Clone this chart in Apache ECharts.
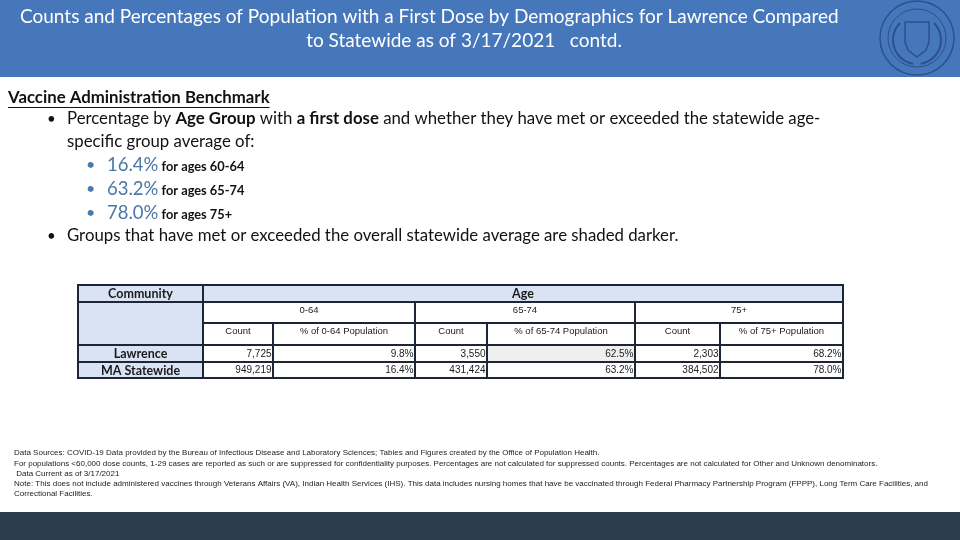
<!DOCTYPE html>
<html><head><meta charset="utf-8">
<script src="https://cdn.jsdelivr.net/npm/echarts@6/dist/echarts.min.js"></script>
<style>html,body{margin:0;padding:0;background:#fff}#c{width:960px;height:540px}</style>
</head><body><div id="c"></div>
<script>
// ---------- data ----------
const communities = ['Lawrence', 'MA Statewide'];
const ageGroups = ['0-64', '65-74', '75+'];
const lawrenceCounts = [7725, 3550, 2303];
const lawrencePcts = [9.8, 62.5, 68.2];
const statewideCounts = [949219, 431424, 384502];
const statewidePcts = [16.4, 63.2, 78.0];
const lawrenceShaded = [false, true, false];
const benchmarkPcts = [16.4, 63.2, 78.0];
const benchmarkLabels = ['for ages 60-64', 'for ages 65-74', 'for ages 75+'];

const titleLines = ['Counts and Percentages of Population with a First Dose by Demographics for Lawrence Compared', 'to Statewide as of 3/17/2021   contd.'];
const footnotes = [
  'Data Sources: COVID-19 Data provided by the Bureau of Infectious Disease and Laboratory Sciences; Tables and Figures created by the Office of Population Health.',
  'For populations <60,000 dose counts, 1-29 cases are reported as such or are suppressed for confidentiality purposes. Percentages are not calculated for suppressed counts. Percentages are not calculated for Other and Unknown denominators.',
  ' Data Current as of 3/17/2021',
  'Note: This does not include administered vaccines through Veterans Affairs (VA), Indian Health Services (IHS). This data includes nursing homes that have be vaccinated through Federal Pharmacy Partnership Program (FPPP), Long Term Care Facilities, and',
  'Correctional Facilities.'
];

// ---------- layout (table grid in px units) ----------
const colEdges = [0, 125, 195, 337, 409, 557, 642, 765];
const rowEdges = [0, 17, 38, 60, 77, 93];
const BLUE = '#dae3f3', WHITE = '#ffffff', GREY = '#efefef';
const fmt = n => n.toLocaleString('en-US');

const cells = [];
function cell(c0, c1, r0, r1, text, fill, kind, align) {
  cells.push({c0, c1, r0, r1, text, fill, kind, align});
}
cell(0, 1, 0, 1, 'Community', BLUE, 'hdr', 'center');
cell(0, 1, 1, 3, '', BLUE, 'hdr', 'center');
communities.forEach((c, i) => cell(0, 1, 3 + i, 4 + i, c, BLUE, 'hdr', 'center'));
cell(1, 7, 0, 1, 'Age', BLUE, 'hdr', 'center');
ageGroups.forEach((g, i) => {
  cell(1 + 2 * i, 3 + 2 * i, 1, 2, g, WHITE, 'sub', 'center');
  cell(1 + 2 * i, 2 + 2 * i, 2, 3, 'Count', WHITE, 'sub', 'center');
  cell(2 + 2 * i, 3 + 2 * i, 2, 3, '% of ' + g + ' Population', WHITE, 'sub', 'center');
  cell(1 + 2 * i, 2 + 2 * i, 3, 4, fmt(lawrenceCounts[i]), WHITE, 'num', 'right');
  cell(2 + 2 * i, 3 + 2 * i, 3, 4, lawrencePcts[i].toFixed(1) + '%', lawrenceShaded[i] ? GREY : WHITE, 'num', 'right');
  cell(1 + 2 * i, 2 + 2 * i, 4, 5, fmt(statewideCounts[i]), WHITE, 'num', 'right');
  cell(2 + 2 * i, 3 + 2 * i, 4, 5, statewidePcts[i].toFixed(1) + '%', WHITE, 'num', 'right');
});

function renderCell(params, api) {
  const c = cells[params.dataIndex];
  const p0 = api.coord([api.value(0), api.value(2)]);
  const p1 = api.coord([api.value(1), api.value(3)]);
  const x = p0[0], y = p0[1], w = p1[0] - p0[0], h = p1[1] - p0[1];
  const children = [{
    type: 'rect', shape: {x, y, width: w, height: h},
    style: {fill: c.fill, stroke: '#1c2636', lineWidth: 2}
  }];
  if (c.text) {
    let tx, ty, font;
    if (c.kind === 'hdr') {
      font = {fontFamily: 'Lato', fontSize: 12.5, fontWeight: 'bold'};
      tx = x + w / 2; ty = y + h / 2 + 0.5;
    } else if (c.kind === 'sub') {
      font = {fontFamily: 'Liberation Sans', fontSize: 9.5};
      tx = x + w / 2; ty = y + 8;
    } else {
      font = {fontFamily: 'Liberation Sans', fontSize: 10};
      tx = x + w - 1.5; ty = y + h / 2 + 0.5;
    }
    children.push({
      type: 'text',
      style: Object.assign({text: c.text, x: tx, y: ty, align: c.align, verticalAlign: 'middle', fill: '#1a1a1a'}, font)
    });
  }
  return {type: 'group', children};
}

// ---------- text helpers ----------
const BODY = 'Lato';
const BS = 16.8;
const graphics = [];
graphics.push({type: 'rect', shape: {x: 0, y: 0, width: 960, height: 77}, style: {fill: '#4677ba'}, z: 0});
graphics.push({type: 'rect', shape: {x: 0, y: 512, width: 960, height: 28}, style: {fill: '#2c3c4e'}, z: 0});
graphics.push({type: 'text', style: {text: titleLines[0], x: 20, y: 17, align: 'left', verticalAlign: 'middle', fill: '#fff', fontFamily: BODY, fontSize: 19}, z: 2});
graphics.push({type: 'text', style: {text: titleLines[1], x: 464, y: 41, align: 'center', verticalAlign: 'middle', fill: '#fff', fontFamily: BODY, fontSize: 19}, z: 2});

// logo (seal)
const LC = '#2c508f';
graphics.push({type: 'circle', shape: {cx: 917, cy: 38, r: 37}, style: {fill: 'none', stroke: LC, lineWidth: 1.5}, z: 2});
graphics.push({type: 'circle', shape: {cx: 917, cy: 38, r: 29}, style: {fill: 'none', stroke: LC, lineWidth: 1}, z: 2});
graphics.push({type: 'polygon', shape: {points: [[905, 22], [929, 22], [929, 42], [926, 50], [917, 57], [908, 50], [905, 42]]}, style: {fill: 'none', stroke: LC, lineWidth: 1.5}, z: 2});
graphics.push({type: 'arc', shape: {cx: 917, cy: 40, r: 24, startAngle: Math.PI * 0.55, endAngle: Math.PI * 1.25}, style: {fill: 'none', stroke: LC, lineWidth: 2}, z: 2});
graphics.push({type: 'arc', shape: {cx: 917, cy: 40, r: 24, startAngle: -Math.PI * 0.25, endAngle: Math.PI * 0.45}, style: {fill: 'none', stroke: LC, lineWidth: 2}, z: 2});

// body text
const hdrText = 'Vaccine Administration Benchmark';
const mctx = document.createElement('canvas').getContext('2d');
mctx.font = 'bold 16.8px Lato';
const hdrW = mctx.measureText(hdrText).width;
graphics.push({type: 'text', style: {text: hdrText, x: 8, y: 98, verticalAlign: 'middle', fill: '#111', fontFamily: BODY, fontSize: BS, fontWeight: 'bold'}});
graphics.push({type: 'line', shape: {x1: 8, y1: 107.5, x2: 8 + hdrW, y2: 107.5}, style: {stroke: '#111', lineWidth: 1}});

const richBody = {
  r: {fontFamily: BODY, fontSize: BS, fill: '#111'},
  b: {fontFamily: BODY, fontSize: BS, fontWeight: 'bold', fill: '#111'}
};
graphics.push({type: 'text', style: {text: '•', x: 47, y: 119, verticalAlign: 'middle', fill: '#111', fontFamily: BODY, fontSize: 15}});
graphics.push({type: 'text', style: {text: '{r|Percentage by }{b|Age Group}{r| with }{b|a first dose}{r| and whether they have met or exceeded the statewide age-}', x: 67, y: 119, verticalAlign: 'middle', rich: richBody}});
graphics.push({type: 'text', style: {text: 'specific group average of:', x: 67, y: 142, verticalAlign: 'middle', fill: '#111', fontFamily: BODY, fontSize: BS}});
benchmarkPcts.forEach((p, i) => {
  const y = 165 + i * 24;
  graphics.push({type: 'text', style: {text: '•', x: 86, y, verticalAlign: 'middle', fill: '#4a78a8', fontFamily: BODY, fontSize: 16}});
  graphics.push({type: 'text', style: {
    text: '{p|' + p.toFixed(1) + '%}{l| ' + benchmarkLabels[i] + '}', x: 107, y, verticalAlign: 'middle',
    rich: {
      p: {fontFamily: BODY, fontSize: 18.5, fill: '#4a78a8', verticalAlign: 'bottom'},
      l: {fontFamily: BODY, fontSize: 12.8, fontWeight: 'bold', fill: '#111', verticalAlign: 'bottom', padding: [0, 0, 1, 0]}
    }}});
});
graphics.push({type: 'text', style: {text: '•', x: 47, y: 236, verticalAlign: 'middle', fill: '#111', fontFamily: BODY, fontSize: 15}});
graphics.push({type: 'text', style: {text: 'Groups that have met or exceeded the overall statewide average are shaded darker.', x: 67, y: 236, verticalAlign: 'middle', fill: '#111', fontFamily: BODY, fontSize: BS}});

// footnotes
const footY = [453, 464, 474, 484, 494];
footnotes.forEach((t, i) => {
  graphics.push({type: 'text', style: {text: t, x: 14, y: footY[i], verticalAlign: 'middle', fill: '#222', fontFamily: 'Liberation Sans', fontSize: 8}});
});

const chart = echarts.init(document.getElementById('c'), null, {renderer: 'canvas'});
chart.setOption({
  animation: false,
  backgroundColor: '#ffffff',
  grid: {left: 78, top: 285, width: 765, height: 93},
  xAxis: {type: 'value', min: 0, max: 765, show: false},
  yAxis: {type: 'value', min: 0, max: 93, inverse: true, show: false},
  graphic: graphics,
  series: [{
    type: 'custom',
    renderItem: renderCell,
    clip: false,
    data: cells.map(c => [colEdges[c.c0], colEdges[c.c1], rowEdges[c.r0], rowEdges[c.r1]]),
    encode: {x: [0, 1], y: [2, 3]},
    silent: true
  }]
});
</script></body></html>
